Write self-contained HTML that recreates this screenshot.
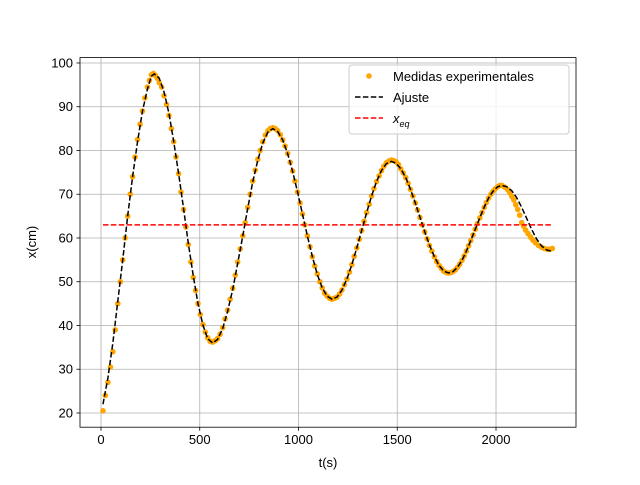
<!DOCTYPE html>
<html><head><meta charset="utf-8"><style>
body{margin:0;background:#fff}
svg{font-family:"Liberation Sans","DejaVu Sans",sans-serif}
</style></head><body>
<svg id="chart" width="640" height="480" xmlns="http://www.w3.org/2000/svg">
<rect width="640" height="480" fill="#fff"/>
<g id="grid"></g>
<g id="plot"></g>
<rect x="80" y="57.6" width="496" height="369.6" fill="none" stroke="#000" stroke-width="0.8"/>
<g id="ticks"></g>
<text x="328" y="467" font-size="13" text-anchor="middle">t(s)</text>
<text x="36" y="242" font-size="13" text-anchor="middle" transform="rotate(-90 36 242)">x(cm)</text>
<g>
<rect x="349" y="65" width="220" height="69" rx="3" fill="#fff" fill-opacity="0.8" stroke="#ccc"/>
<circle cx="369" cy="76" r="2.8" fill="orange"/>
<text x="393" y="81" font-size="13">Medidas experimentales</text>
<line x1="355" y1="97" x2="383" y2="97" stroke="#000" stroke-width="1.5" stroke-dasharray="5.5,2.4"/>
<text x="393" y="102" font-size="13">Ajuste</text>
<line x1="355" y1="118" x2="383" y2="118" stroke="red" stroke-width="1.5" stroke-dasharray="5.5,2.4"/>
<text x="393" y="123" font-size="13" font-style="italic">x<tspan font-size="9" dy="4">eq</tspan></text>
</g>
</svg>
<script>
const xTicks=[0,500,1000,1500,2000];
const yTicks=[20,30,40,50,60,70,80,90,100];
const xeq=63;
const xeqRange=[10,2280];
const fitT=[10,35,60,85,110,135,160,185,210,235,255,270,295,319,344,368,393,418,442,467,491,516,540,565,590,616,641,667,692,718,743,768,794,819,845,870,895,920,945,970,995,1020,1045,1070,1095,1120,1145,1170,1195,1220,1245,1270,1295,1320,1345,1370,1395,1420,1445,1470,1494,1518,1543,1567,1591,1615,1639,1663,1688,1712,1736,1760,1782,1805,1828,1850,1872,1895,1918,1940,1962,1985,2008,2030,2055,2080,2105,2130,2155,2180,2205,2230,2255,2280];
const fitX=[22,28,36,45.5,55,65,74,82,89,94,97,97.5,96.5,93.4,88.5,82.1,74.7,66.75,58.8,51.4,45.0,40.1,37.0,36,36.8,39.3,43.2,48.25,54.2,60.5,66.8,72.75,77.8,81.7,84.2,85,84.3,82.4,79.3,75.25,70.55,65.5,60.45,55.75,51.7,48.6,46.7,46,46.5,48.1,50.6,53.9,57.7,61.75,65.8,69.6,72.9,75.4,77,77.5,77.1,75.8,73.8,71.1,68.05,64.75,61.45,58.4,55.7,53.7,52.4,52,52.3,53.3,54.9,57,59.4,62,64.6,67,69.1,70.7,71.7,72,71.7,70.8,69.2,67,64.5,62,59.8,58.2,57.3,57];
const measT=[10,22,35,48,60,72,85,98,110,122,135,148,160,172,185,198,210,222,235,245,255,265,275,285,295,307,319,332,344,356,368,380,393,405,418,430,442,455,467,479,491,503,516,528,540,552,565,578,590,603,616,628,641,654,667,680,692,705,718,730,743,755,768,781,794,806,819,832,845,857,870,882,895,908,920,932,945,958,970,982,995,1008,1020,1032,1045,1058,1070,1082,1095,1108,1120,1132,1145,1158,1170,1182,1195,1208,1220,1232,1245,1258,1270,1282,1295,1308,1320,1332,1345,1358,1370,1382,1395,1408,1420,1432,1445,1458,1470,1482,1494,1506,1518,1530,1543,1555,1567,1579,1591,1603,1615,1627,1639,1651,1663,1675,1688,1700,1712,1724,1736,1748,1760,1771,1782,1794,1805,1816,1828,1839,1850,1861,1872,1884,1895,1906,1918,1929,1940,1951,1962,1974,1985,1996,2008,2019,2030,2045,2060,2070,2080,2090,2100,2110,2120,2130,2140,2150,2162,2175,2187,2200,2215,2230,2245,2260,2272,2285];
const measX=[20.5,24,27,30.5,34,39,45,50,55,60,65,70,74,78.5,82.5,86,89,92,94.5,96,97.3,97.6,97.2,96.5,95.5,94.5,92.5,90.5,88,85,82,78.5,74.7,70.5,66.5,62.5,58.5,54.5,51,48,45,42.5,40.2,38.5,37.2,36.4,36.2,36.5,37,38,39.5,41.5,43.5,46,48.5,51.5,54.5,57.5,60.5,63.5,67,70,73,75.5,78,80,82,83.5,84.5,85,85.2,85,84.5,83.6,82.4,81,79.3,77.3,75.3,73,70.5,68,65.5,63,60.5,58,55.7,53.6,51.8,50,48.6,47.4,46.7,46.2,46,46.2,46.5,47.2,48.1,49.3,50.6,52.2,53.9,55.8,57.7,59.7,61.7,63.8,65.8,67.7,69.6,71.3,72.9,74.2,75.4,76.4,77.2,77.6,77.8,77.7,77.4,76.8,75.8,74.9,73.8,72.5,71.1,69.6,68,66.4,64.7,63,61.4,59.8,58.3,57,55.7,54.6,53.7,53,52.4,52.1,52,52.1,52.3,52.7,53.3,54,54.9,55.9,57,58.2,59.4,60.7,62,63.3,64.6,65.8,67,68.1,69.1,70,70.7,71.2,71.7,72,72,71.6,71,70.3,69.5,68.7,67.6,66.5,65.2,63.5,62.7,61.8,61,60.2,59.5,58.9,58.3,57.9,57.6,57.4,57.4,57.6];
const X0=-106.3,X1=2405,Y0=16.75,Y1=101.23;
const L=80,R=576,T=57.6,B=427.2;
function sx(v){return L+(v-X0)/(X1-X0)*(R-L);}
function sy(v){return B-(v-Y0)/(Y1-Y0)*(B-T);}
const NS="http://www.w3.org/2000/svg";
function mk(tag,attrs,parent){const e=document.createElementNS(NS,tag);for(const k in attrs)e.setAttribute(k,attrs[k]);parent.appendChild(e);return e;}
const grid=document.getElementById('grid'),ticks=document.getElementById('ticks'),plot=document.getElementById('plot');
xTicks.forEach(v=>{
  const g=mk('line',{x1:sx(v),x2:sx(v),y1:T,y2:B,stroke:'#b0b0b0','stroke-width':0.8},grid);
  
  
  const t=mk('line',{x1:sx(v),x2:sx(v),y1:B,y2:B+3.5,stroke:'#000','stroke-width':0.8},ticks);
  
  
  const l=mk('text',{x:sx(v),y:B+17,'font-size':13,'text-anchor':'middle'},ticks);
  l.textContent=v;
  
  
});
yTicks.forEach(v=>{
  const g=mk('line',{x1:L,x2:R,y1:sy(v),y2:sy(v),stroke:'#b0b0b0','stroke-width':0.8},grid);
  
  
  const t=mk('line',{x1:L-3.5,x2:L,y1:sy(v),y2:sy(v),stroke:'#000','stroke-width':0.8},ticks);
  
  
  const l=mk('text',{x:L-7,y:sy(v)+4.5,'font-size':13,'text-anchor':'end'},ticks);
  l.textContent=v;
  
  
});
measT.forEach((t,i)=>{
  const c=mk('circle',{cx:sx(t),cy:sy(measX[i]),r:2.8,fill:'orange'},plot);
  
  
});
const fit=mk('polyline',{points:fitT.map((t,i)=>sx(t)+','+sy(fitX[i])).join(' '),fill:'none',stroke:'#000','stroke-width':1.5,'stroke-dasharray':'5.5,2.4'},plot);


const eq=mk('line',{x1:sx(xeqRange[0]),x2:sx(xeqRange[1]),y1:sy(xeq),y2:sy(xeq),stroke:'red','stroke-width':1.5,'stroke-dasharray':'5.5,2.4'},plot);


</script>
</body></html>
